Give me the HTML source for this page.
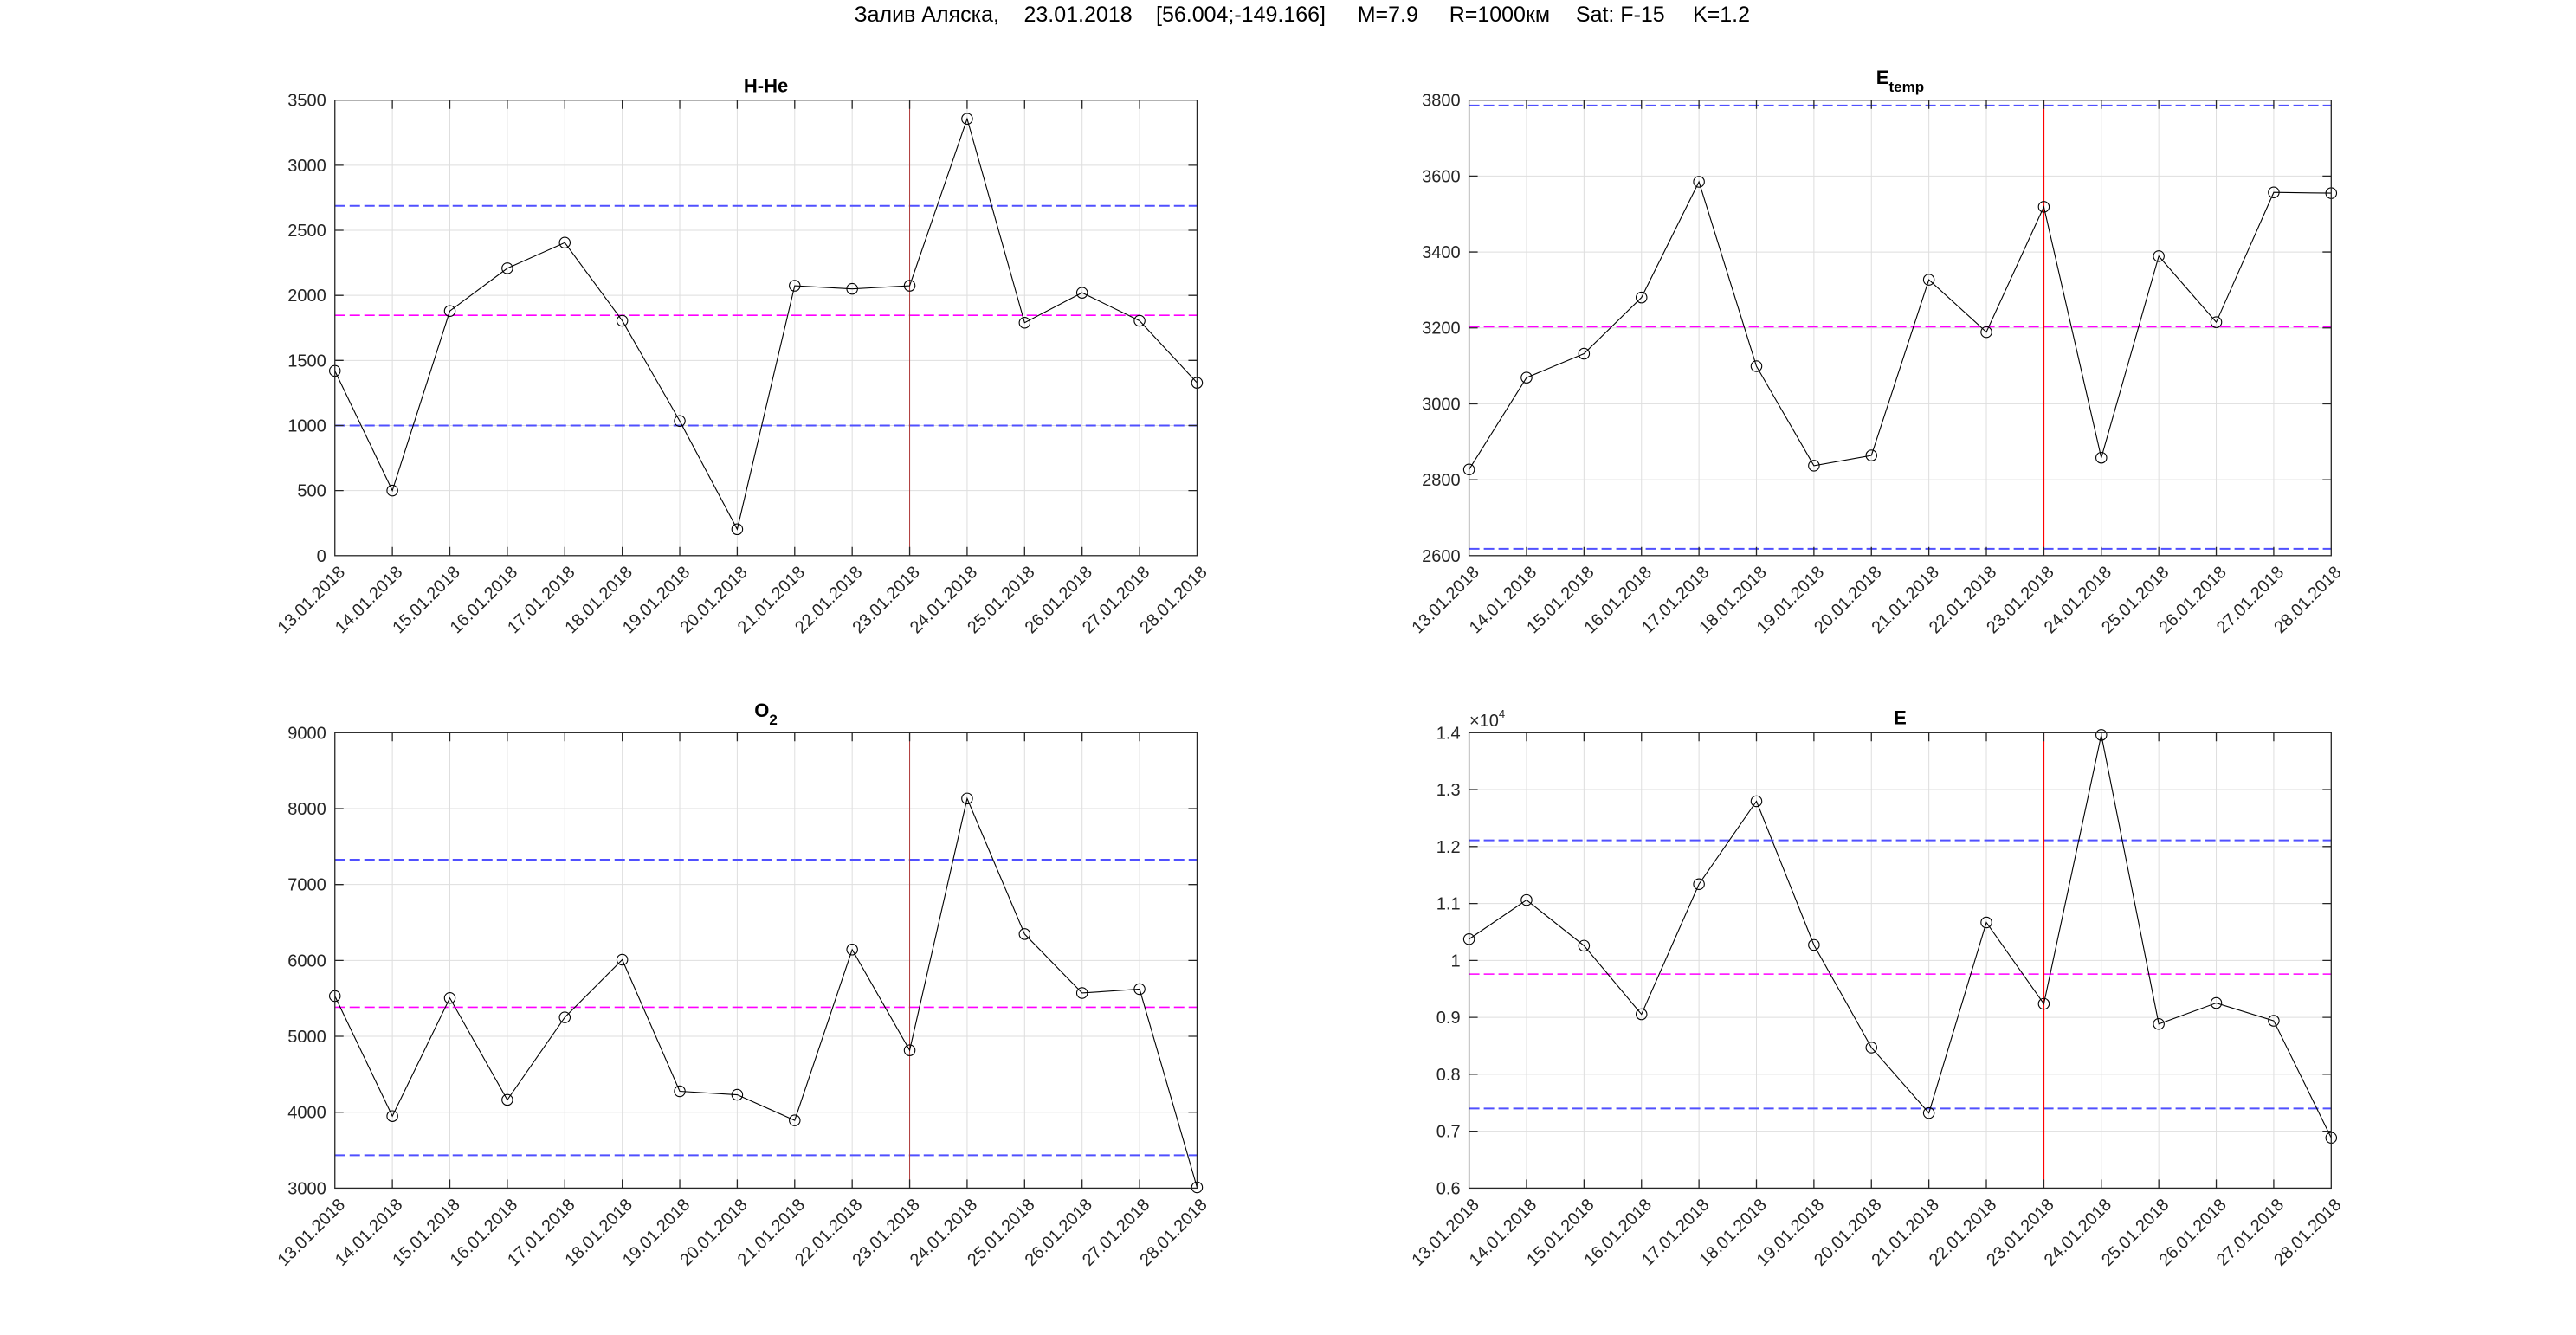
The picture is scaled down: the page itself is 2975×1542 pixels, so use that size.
<!DOCTYPE html>
<html>
<head>
<meta charset="utf-8">
<style>
html,body{margin:0;padding:0;background:#fff;}
svg{display:block;}
text{font-family:"Liberation Sans",Arial,"DejaVu Sans",sans-serif;}
.tl{font-size:20px;fill:#262626;}
.yl{text-anchor:end;}
.xl{text-anchor:end;}
.ttl{font-size:22px;font-weight:bold;fill:#000;text-anchor:middle;}
.grid{stroke:#dedede;stroke-width:1;fill:none;}
.ax{stroke:#262626;stroke-width:1.3;fill:none;}
.blue{stroke:#5050ff;stroke-width:2;stroke-dasharray:12 5;fill:none;}
.mag{stroke:#ff00ff;stroke-width:1.6;stroke-dasharray:12 5;fill:none;}
.red{stroke:#ff0000;stroke-width:1.4;}
.redL{stroke:#b03a3a;stroke-width:1;}
.dl{stroke:#000;stroke-width:1.1;fill:none;}
.mk circle{stroke:#000;stroke-width:1.1;fill:none;}
</style>
</head>
<body>
<svg width="2975" height="1542" viewBox="0 0 2975 1542" xmlns="http://www.w3.org/2000/svg">
<rect x="0" y="0" width="2975" height="1542" fill="#fff"/>
<defs>
<path id="vg" d="M66.38 0V526.1M132.76 0V526.1M199.14 0V526.1M265.52 0V526.1M331.9 0V526.1M398.28 0V526.1M464.66 0V526.1M531.04 0V526.1M597.42 0V526.1M663.8 0V526.1M730.18 0V526.1M796.56 0V526.1M862.94 0V526.1M929.32 0V526.1"/>
<path id="xt" d="M66.38 526.1v-10M132.76 526.1v-10M199.14 526.1v-10M265.52 526.1v-10M331.9 526.1v-10M398.28 526.1v-10M464.66 526.1v-10M531.04 526.1v-10M597.42 526.1v-10M663.8 526.1v-10M730.18 526.1v-10M796.56 526.1v-10M862.94 526.1v-10M929.32 526.1v-10M66.38 0v10M132.76 0v10M199.14 0v10M265.52 0v10M331.9 0v10M398.28 0v10M464.66 0v10M531.04 0v10M597.42 0v10M663.8 0v10M730.18 0v10M796.56 0v10M862.94 0v10M929.32 0v10"/>
</defs>

<!-- Header -->
<g font-size="25" fill="#000">
<text x="986.5" y="25">Залив Аляска,</text>
<text x="1182.5" y="25">23.01.2018</text>
<text x="1335" y="25">[56.004;-149.166]</text>
<text x="1567.7" y="25">M=7.9</text>
<text x="1673.7" y="25">R=1000км</text>
<text x="1819.9" y="25">Sat: F-15</text>
<text x="1955" y="25">K=1.2</text>
</g>

<!-- ========== TL: H-He ========== -->
<g transform="translate(386.75,115.7)">
<use href="#vg" class="grid"/>
<path class="grid" d="M0 450.94H995.7M0 375.79H995.7M0 300.63H995.7M0 225.47H995.7M0 150.31H995.7M0 75.16H995.7"/>
<line class="blue" x1="0" y1="122.06" x2="995.7" y2="122.06"/>
<line class="mag" x1="0" y1="248.47" x2="995.7" y2="248.47"/>
<line class="blue" x1="0" y1="375.79" x2="995.7" y2="375.79"/>
<line class="redL" x1="663.8" y1="0" x2="663.8" y2="526.1"/>
<polyline class="dl" points="0,312.65 66.38,450.94 132.76,243.51 199.14,194.21 265.52,164.59 331.9,254.78 398.28,370.53 464.66,495.59 531.04,214.35 597.42,217.96 663.8,214.35 730.18,21.5 796.56,257.04 862.94,222.47 929.32,254.78 995.7,326.48"/>
<g class="mk">
<circle cx="0" cy="312.65" r="6.2"/><circle cx="66.38" cy="450.94" r="6.2"/><circle cx="132.76" cy="243.51" r="6.2"/><circle cx="199.14" cy="194.21" r="6.2"/><circle cx="265.52" cy="164.59" r="6.2"/><circle cx="331.9" cy="254.78" r="6.2"/><circle cx="398.28" cy="370.53" r="6.2"/><circle cx="464.66" cy="495.59" r="6.2"/><circle cx="531.04" cy="214.35" r="6.2"/><circle cx="597.42" cy="217.96" r="6.2"/><circle cx="663.8" cy="214.35" r="6.2"/><circle cx="730.18" cy="21.5" r="6.2"/><circle cx="796.56" cy="257.04" r="6.2"/><circle cx="862.94" cy="222.47" r="6.2"/><circle cx="929.32" cy="254.78" r="6.2"/><circle cx="995.7" cy="326.48" r="6.2"/>
</g>
<rect class="ax" x="0" y="0" width="995.7" height="526.1"/>
<use href="#xt" class="ax"/>
<path class="ax" d="M0 450.94h10M0 375.79h10M0 300.63h10M0 225.47h10M0 150.31h10M0 75.16h10M995.7 450.94h-10M995.7 375.79h-10M995.7 300.63h-10M995.7 225.47h-10M995.7 150.31h-10M995.7 75.16h-10"/>
<g class="tl yl">
<text x="-10" y="533.1">0</text><text x="-10" y="457.94">500</text><text x="-10" y="382.79">1000</text><text x="-10" y="307.63">1500</text><text x="-10" y="232.47">2000</text><text x="-10" y="157.31">2500</text><text x="-10" y="82.16">3000</text><text x="-10" y="7">3500</text>
</g>
<g class="tl xl">
<text transform="translate(12.7,546.3) rotate(-45)">13.01.2018</text>
<text transform="translate(79.08,546.3) rotate(-45)">14.01.2018</text>
<text transform="translate(145.46,546.3) rotate(-45)">15.01.2018</text>
<text transform="translate(211.84,546.3) rotate(-45)">16.01.2018</text>
<text transform="translate(278.22,546.3) rotate(-45)">17.01.2018</text>
<text transform="translate(344.6,546.3) rotate(-45)">18.01.2018</text>
<text transform="translate(410.98,546.3) rotate(-45)">19.01.2018</text>
<text transform="translate(477.36,546.3) rotate(-45)">20.01.2018</text>
<text transform="translate(543.74,546.3) rotate(-45)">21.01.2018</text>
<text transform="translate(610.12,546.3) rotate(-45)">22.01.2018</text>
<text transform="translate(676.5,546.3) rotate(-45)">23.01.2018</text>
<text transform="translate(742.88,546.3) rotate(-45)">24.01.2018</text>
<text transform="translate(809.26,546.3) rotate(-45)">25.01.2018</text>
<text transform="translate(875.64,546.3) rotate(-45)">26.01.2018</text>
<text transform="translate(942.02,546.3) rotate(-45)">27.01.2018</text>
<text transform="translate(1008.4,546.3) rotate(-45)">28.01.2018</text>
</g>
<text class="ttl" x="497.85" y="-9">H-He</text>
</g>

<!-- ========== TR: E_temp ========== -->
<g transform="translate(1696.6,115.7)">
<use href="#vg" class="grid"/>
<path class="grid" d="M0 438.42H995.7M0 350.73H995.7M0 263.05H995.7M0 175.37H995.7M0 87.68H995.7"/>
<line class="blue" x1="0" y1="6.14" x2="995.7" y2="6.14"/>
<line class="mag" x1="0" y1="261.73" x2="995.7" y2="261.73"/>
<line class="blue" x1="0" y1="518.21" x2="995.7" y2="518.21"/>
<line class="red" x1="663.8" y1="0" x2="663.8" y2="526.1"/>
<polyline class="dl" points="0,426.58 66.38,320.48 132.76,292.86 199.14,227.98 265.52,94.26 331.9,307.33 398.28,422.2 464.66,410.36 531.04,207.37 597.42,267.87 663.8,123.19 730.18,412.99 796.56,180.19 862.94,256.47 929.32,106.53 995.7,107.41"/>
<g class="mk">
<circle cx="0" cy="426.58" r="6.2"/><circle cx="66.38" cy="320.48" r="6.2"/><circle cx="132.76" cy="292.86" r="6.2"/><circle cx="199.14" cy="227.98" r="6.2"/><circle cx="265.52" cy="94.26" r="6.2"/><circle cx="331.9" cy="307.33" r="6.2"/><circle cx="398.28" cy="422.2" r="6.2"/><circle cx="464.66" cy="410.36" r="6.2"/><circle cx="531.04" cy="207.37" r="6.2"/><circle cx="597.42" cy="267.87" r="6.2"/><circle cx="663.8" cy="123.19" r="6.2"/><circle cx="730.18" cy="412.99" r="6.2"/><circle cx="796.56" cy="180.19" r="6.2"/><circle cx="862.94" cy="256.47" r="6.2"/><circle cx="929.32" cy="106.53" r="6.2"/><circle cx="995.7" cy="107.41" r="6.2"/>
</g>
<rect class="ax" x="0" y="0" width="995.7" height="526.1"/>
<use href="#xt" class="ax"/>
<path class="ax" d="M0 438.42h10M0 350.73h10M0 263.05h10M0 175.37h10M0 87.68h10M995.7 438.42h-10M995.7 350.73h-10M995.7 263.05h-10M995.7 175.37h-10M995.7 87.68h-10"/>
<g class="tl yl">
<text x="-10" y="533.1">2600</text><text x="-10" y="445.42">2800</text><text x="-10" y="357.73">3000</text><text x="-10" y="270.05">3200</text><text x="-10" y="182.37">3400</text><text x="-10" y="94.68">3600</text><text x="-10" y="7">3800</text>
</g>
<g class="tl xl">
<text transform="translate(12.7,546.3) rotate(-45)">13.01.2018</text>
<text transform="translate(79.08,546.3) rotate(-45)">14.01.2018</text>
<text transform="translate(145.46,546.3) rotate(-45)">15.01.2018</text>
<text transform="translate(211.84,546.3) rotate(-45)">16.01.2018</text>
<text transform="translate(278.22,546.3) rotate(-45)">17.01.2018</text>
<text transform="translate(344.6,546.3) rotate(-45)">18.01.2018</text>
<text transform="translate(410.98,546.3) rotate(-45)">19.01.2018</text>
<text transform="translate(477.36,546.3) rotate(-45)">20.01.2018</text>
<text transform="translate(543.74,546.3) rotate(-45)">21.01.2018</text>
<text transform="translate(610.12,546.3) rotate(-45)">22.01.2018</text>
<text transform="translate(676.5,546.3) rotate(-45)">23.01.2018</text>
<text transform="translate(742.88,546.3) rotate(-45)">24.01.2018</text>
<text transform="translate(809.26,546.3) rotate(-45)">25.01.2018</text>
<text transform="translate(875.64,546.3) rotate(-45)">26.01.2018</text>
<text transform="translate(942.02,546.3) rotate(-45)">27.01.2018</text>
<text transform="translate(1008.4,546.3) rotate(-45)">28.01.2018</text>
</g>
<text class="ttl" x="497.85" y="-18.7">E<tspan font-size="17" dy="8.8">temp</tspan></text>
</g>

<!-- ========== BL: O2 ========== -->
<g transform="translate(386.75,846.3)">
<use href="#vg" class="grid"/>
<path class="grid" d="M0 438.42H995.7M0 350.73H995.7M0 263.05H995.7M0 175.37H995.7M0 87.68H995.7"/>
<line class="blue" x1="0" y1="146.69" x2="995.7" y2="146.69"/>
<line class="mag" x1="0" y1="317.15" x2="995.7" y2="317.15"/>
<line class="blue" x1="0" y1="488.05" x2="995.7" y2="488.05"/>
<line class="redL" x1="663.8" y1="0" x2="663.8" y2="526.1"/>
<polyline class="dl" points="0,304.17 66.38,442.89 132.76,306.45 199.14,424.12 265.52,328.81 331.9,262.17 398.28,414.22 464.66,418.25 531.04,447.8 597.42,250.51 663.8,366.87 730.18,76.02 796.56,232.62 862.94,300.67 929.32,296.19 995.7,525.22"/>
<g class="mk">
<circle cx="0" cy="304.17" r="6.2"/><circle cx="66.38" cy="442.89" r="6.2"/><circle cx="132.76" cy="306.45" r="6.2"/><circle cx="199.14" cy="424.12" r="6.2"/><circle cx="265.52" cy="328.81" r="6.2"/><circle cx="331.9" cy="262.17" r="6.2"/><circle cx="398.28" cy="414.22" r="6.2"/><circle cx="464.66" cy="418.25" r="6.2"/><circle cx="531.04" cy="447.8" r="6.2"/><circle cx="597.42" cy="250.51" r="6.2"/><circle cx="663.8" cy="366.87" r="6.2"/><circle cx="730.18" cy="76.02" r="6.2"/><circle cx="796.56" cy="232.62" r="6.2"/><circle cx="862.94" cy="300.67" r="6.2"/><circle cx="929.32" cy="296.19" r="6.2"/><circle cx="995.7" cy="525.22" r="6.2"/>
</g>
<rect class="ax" x="0" y="0" width="995.7" height="526.1"/>
<use href="#xt" class="ax"/>
<path class="ax" d="M0 438.42h10M0 350.73h10M0 263.05h10M0 175.37h10M0 87.68h10M995.7 438.42h-10M995.7 350.73h-10M995.7 263.05h-10M995.7 175.37h-10M995.7 87.68h-10"/>
<g class="tl yl">
<text x="-10" y="533.1">3000</text><text x="-10" y="445.42">4000</text><text x="-10" y="357.73">5000</text><text x="-10" y="270.05">6000</text><text x="-10" y="182.37">7000</text><text x="-10" y="94.68">8000</text><text x="-10" y="7">9000</text>
</g>
<g class="tl xl">
<text transform="translate(12.7,546.3) rotate(-45)">13.01.2018</text>
<text transform="translate(79.08,546.3) rotate(-45)">14.01.2018</text>
<text transform="translate(145.46,546.3) rotate(-45)">15.01.2018</text>
<text transform="translate(211.84,546.3) rotate(-45)">16.01.2018</text>
<text transform="translate(278.22,546.3) rotate(-45)">17.01.2018</text>
<text transform="translate(344.6,546.3) rotate(-45)">18.01.2018</text>
<text transform="translate(410.98,546.3) rotate(-45)">19.01.2018</text>
<text transform="translate(477.36,546.3) rotate(-45)">20.01.2018</text>
<text transform="translate(543.74,546.3) rotate(-45)">21.01.2018</text>
<text transform="translate(610.12,546.3) rotate(-45)">22.01.2018</text>
<text transform="translate(676.5,546.3) rotate(-45)">23.01.2018</text>
<text transform="translate(742.88,546.3) rotate(-45)">24.01.2018</text>
<text transform="translate(809.26,546.3) rotate(-45)">25.01.2018</text>
<text transform="translate(875.64,546.3) rotate(-45)">26.01.2018</text>
<text transform="translate(942.02,546.3) rotate(-45)">27.01.2018</text>
<text transform="translate(1008.4,546.3) rotate(-45)">28.01.2018</text>
</g>
<text class="ttl" x="497.85" y="-18.3">O<tspan font-size="17" dy="9">2</tspan></text>
</g>

<!-- ========== BR: E ========== -->
<g transform="translate(1696.6,846.3)">
<use href="#vg" class="grid"/>
<path class="grid" d="M0 460.34H995.7M0 394.57H995.7M0 328.81H995.7M0 263.05H995.7M0 197.29H995.7M0 131.52H995.7M0 65.76H995.7"/>
<line class="blue" x1="0" y1="124.29" x2="995.7" y2="124.29"/>
<line class="mag" x1="0" y1="278.83" x2="995.7" y2="278.83"/>
<line class="blue" x1="0" y1="434.03" x2="995.7" y2="434.03"/>
<line class="red" x1="663.8" y1="0" x2="663.8" y2="526.1"/>
<polyline class="dl" points="0,238.45 66.38,193.28 132.76,246.02 199.14,325.26 265.52,174.93 331.9,79.18 398.28,245.16 464.66,363.67 531.04,439.29 597.42,219.19 663.8,313.16 730.18,2.63 796.56,336.44 862.94,312.24 929.32,332.76 995.7,467.97"/>
<g class="mk">
<circle cx="0" cy="238.45" r="6.2"/><circle cx="66.38" cy="193.28" r="6.2"/><circle cx="132.76" cy="246.02" r="6.2"/><circle cx="199.14" cy="325.26" r="6.2"/><circle cx="265.52" cy="174.93" r="6.2"/><circle cx="331.9" cy="79.18" r="6.2"/><circle cx="398.28" cy="245.16" r="6.2"/><circle cx="464.66" cy="363.67" r="6.2"/><circle cx="531.04" cy="439.29" r="6.2"/><circle cx="597.42" cy="219.19" r="6.2"/><circle cx="663.8" cy="313.16" r="6.2"/><circle cx="730.18" cy="2.63" r="6.2"/><circle cx="796.56" cy="336.44" r="6.2"/><circle cx="862.94" cy="312.24" r="6.2"/><circle cx="929.32" cy="332.76" r="6.2"/><circle cx="995.7" cy="467.97" r="6.2"/>
</g>
<rect class="ax" x="0" y="0" width="995.7" height="526.1"/>
<use href="#xt" class="ax"/>
<path class="ax" d="M0 460.34h10M0 394.57h10M0 328.81h10M0 263.05h10M0 197.29h10M0 131.52h10M0 65.76h10M995.7 460.34h-10M995.7 394.57h-10M995.7 328.81h-10M995.7 263.05h-10M995.7 197.29h-10M995.7 131.52h-10M995.7 65.76h-10"/>
<g class="tl yl">
<text x="-10" y="533.1">0.6</text><text x="-10" y="467.34">0.7</text><text x="-10" y="401.57">0.8</text><text x="-10" y="335.81">0.9</text><text x="-10" y="270.05">1</text><text x="-10" y="204.29">1.1</text><text x="-10" y="138.52">1.2</text><text x="-10" y="72.76">1.3</text><text x="-10" y="7">1.4</text>
</g>
<text class="tl" x="0.4" y="-7.5" font-size="19">×10<tspan font-size="13" dy="-10">4</tspan></text>
<g class="tl xl">
<text transform="translate(12.7,546.3) rotate(-45)">13.01.2018</text>
<text transform="translate(79.08,546.3) rotate(-45)">14.01.2018</text>
<text transform="translate(145.46,546.3) rotate(-45)">15.01.2018</text>
<text transform="translate(211.84,546.3) rotate(-45)">16.01.2018</text>
<text transform="translate(278.22,546.3) rotate(-45)">17.01.2018</text>
<text transform="translate(344.6,546.3) rotate(-45)">18.01.2018</text>
<text transform="translate(410.98,546.3) rotate(-45)">19.01.2018</text>
<text transform="translate(477.36,546.3) rotate(-45)">20.01.2018</text>
<text transform="translate(543.74,546.3) rotate(-45)">21.01.2018</text>
<text transform="translate(610.12,546.3) rotate(-45)">22.01.2018</text>
<text transform="translate(676.5,546.3) rotate(-45)">23.01.2018</text>
<text transform="translate(742.88,546.3) rotate(-45)">24.01.2018</text>
<text transform="translate(809.26,546.3) rotate(-45)">25.01.2018</text>
<text transform="translate(875.64,546.3) rotate(-45)">26.01.2018</text>
<text transform="translate(942.02,546.3) rotate(-45)">27.01.2018</text>
<text transform="translate(1008.4,546.3) rotate(-45)">28.01.2018</text>
</g>
<text class="ttl" x="497.85" y="-9.8">E</text>
</g>
</svg>
</body>
</html>
